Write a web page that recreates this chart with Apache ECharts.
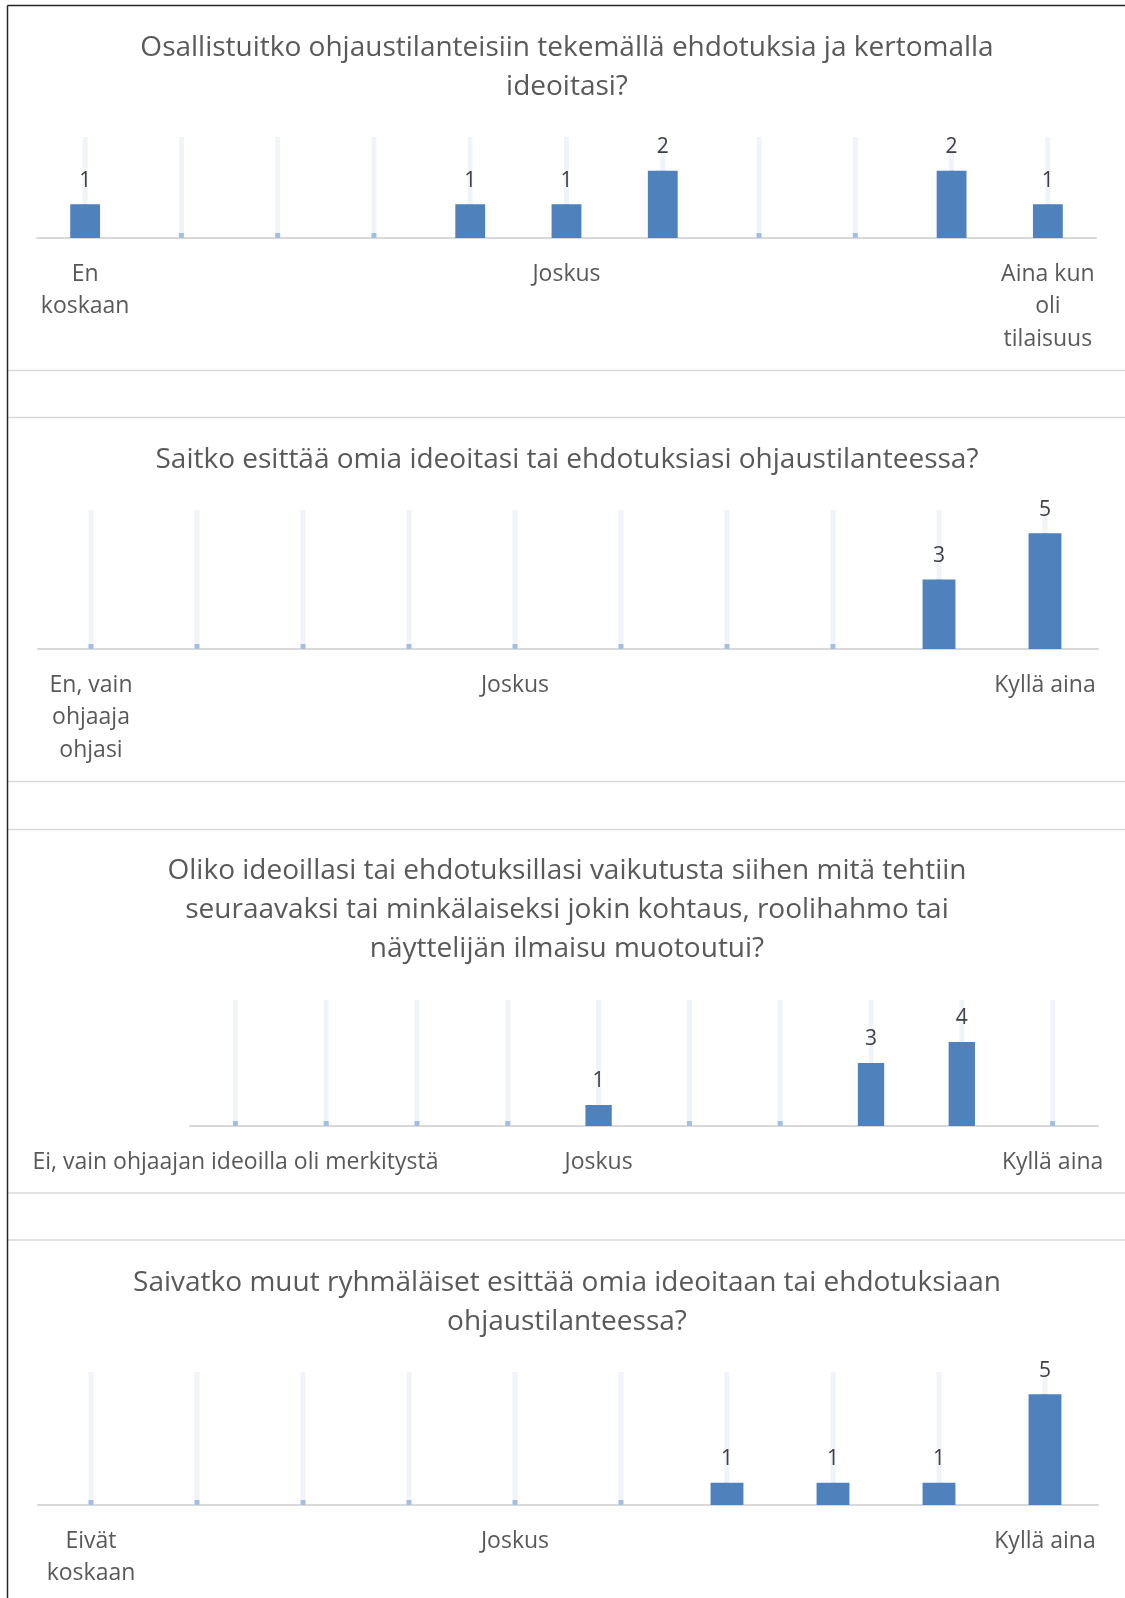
<!DOCTYPE html>
<html>
<head>
<meta charset="utf-8">
<script src="https://cdn.jsdelivr.net/npm/echarts@6/dist/echarts.min.js"></script>
<style>
  html, body { margin: 0; padding: 0; background: #ffffff; }
  #chart { width: 1125px; height: 1598px; }
</style>
</head>
<body>
<div id="chart"></div>
<script>
// Survey answers on a 1–10 (first question 1–11) scale, one array per question
const q1Title = 'Osallistuitko ohjaustilanteisiin tekemällä ehdotuksia ja kertomalla\nideoitasi?';
const q1Scale = ['1', '2', '3', '4', '5', '6', '7', '8', '9', '10', '11'];
const q1Labels = ['En\nkoskaan', '', '', '', '', 'Joskus', '', '', '', '', 'Aina kun\noli\ntilaisuus'];
const q1Values = [1, 0, 0, 0, 1, 1, 2, 0, 0, 2, 1];

const q2Title = 'Saitko esittää omia ideoitasi tai ehdotuksiasi ohjaustilanteessa?';
const q2Scale = ['1', '2', '3', '4', '5', '6', '7', '8', '9', '10'];
const q2Labels = ['En, vain\nohjaaja\nohjasi', '', '', '', 'Joskus', '', '', '', '', 'Kyllä aina'];
const q2Values = [0, 0, 0, 0, 0, 0, 0, 0, 3, 5];

const q3Title = 'Oliko ideoillasi tai ehdotuksillasi vaikutusta siihen mitä tehtiin\nseuraavaksi tai minkälaiseksi jokin kohtaus, roolihahmo tai\nnäyttelijän ilmaisu muotoutui?';
const q3Scale = ['1', '2', '3', '4', '5', '6', '7', '8', '9', '10'];
const q3Labels = ['Ei, vain ohjaajan ideoilla oli merkitystä', '', '', '', 'Joskus', '', '', '', '', 'Kyllä aina'];
const q3Values = [0, 0, 0, 0, 1, 0, 0, 3, 4, 0];

const q4Title = 'Saivatko muut ryhmäläiset esittää omia ideoitaan tai ehdotuksiaan\nohjaustilanteessa?';
const q4Scale = ['1', '2', '3', '4', '5', '6', '7', '8', '9', '10'];
const q4Labels = ['Eivät\nkoskaan', '', '', '', 'Joskus', '', '', '', '', 'Kyllä aina'];
const q4Values = [0, 0, 0, 0, 0, 0, 1, 1, 1, 5];

const FONT = '"Open Sans", "Noto Sans", sans-serif';
const TEXT = '#595959';
const BAR = '#4f81bd';

// Panel layout: plot rectangle, y maximum and title position for each question
const panels = [
  { title: q1Title, scale: q1Scale, labels: q1Labels, values: q1Values, max: 3,
    grid: { left: 37, right: 29, top: 137, height: 101 }, titleTop: 29, barWidth: '31%' },
  { title: q2Title, scale: q2Scale, labels: q2Labels, values: q2Values, max: 6,
    grid: { left: 38, right: 27, top: 510, height: 139 }, titleTop: 441, barWidth: '31%' },
  { title: q3Title, scale: q3Scale, labels: q3Labels, values: q3Values, max: 6,
    grid: { left: 190, right: 27, top: 1000, height: 126 }, titleTop: 852, barWidth: '29%' },
  { title: q4Title, scale: q4Scale, labels: q4Labels, values: q4Values, max: 6,
    grid: { left: 38, right: 27, top: 1372, height: 133 }, titleTop: 1264, barWidth: '31%' }
];

const grid = [], xAxis = [], yAxis = [], series = [], graphic = [];

panels.forEach((p, i) => {
  grid.push(Object.assign({ containLabel: false }, p.grid));
  // visible category axis carrying the scale-end labels
  xAxis.push({
    type: 'category', gridIndex: i, data: p.scale,
    axisLine: { show: true, lineStyle: { color: '#d9d9d9', width: 2 } },
    axisTick: { show: false },
    splitLine: { show: false },
    axisLabel: {
      interval: 0, margin: 20, color: TEXT, fontFamily: FONT, fontSize: 23, lineHeight: 32.5,
      formatter: (v, idx) => p.labels[idx]
    }
  });
  // hidden twin axis so the thin guide bars centre independently of the wide bars
  xAxis.push({ type: 'category', gridIndex: i, data: p.scale, show: false });
  yAxis.push({ type: 'value', gridIndex: i, min: 0, max: p.max, show: false, splitLine: { show: false } });

  series.push({
    type: 'bar', xAxisIndex: 2 * i + 1, yAxisIndex: i,
    data: p.values, barWidth: 5, barMinHeight: 5,
    itemStyle: { color: '#a3bee0' },
    showBackground: true, backgroundStyle: { color: '#f0f4fa' },
    silent: true, animation: false, z: 1
  });
  series.push({
    type: 'bar', xAxisIndex: 2 * i, yAxisIndex: i,
    data: p.values, barWidth: p.barWidth,
    itemStyle: { color: BAR },
    label: {
      show: true, position: 'top', distance: 13,
      color: '#404040', fontFamily: FONT, fontSize: 21,
      formatter: (d) => (d.value ? String(d.value) : '')
    },
    animation: false, z: 2
  });

  graphic.push({
    type: 'text', x: 567, y: p.titleTop, z: 10,
    style: {
      text: p.title, align: 'center', verticalAlign: 'top',
      fontFamily: FONT, fontSize: 28, lineHeight: 39, fill: TEXT
    }
  });
});

// panel frames: outer dark edge and the light separators between panels
[370.5, 417.5, 781.5, 829.5, 1193, 1240].forEach((y) => {
  graphic.push({ type: 'line', shape: { x1: 8, y1: y, x2: 1125, y2: y },
    style: { stroke: '#d9d9d9', lineWidth: 1.5 }, z: 5 });
});
graphic.push({ type: 'line', shape: { x1: 7.5, y1: 5.5, x2: 1125, y2: 5.5 },
  style: { stroke: '#262626', lineWidth: 1.5 }, z: 6 });
graphic.push({ type: 'line', shape: { x1: 7.5, y1: 5.5, x2: 7.5, y2: 1598 },
  style: { stroke: '#262626', lineWidth: 1.5 }, z: 6 });

const chart = echarts.init(document.getElementById('chart'), null, { renderer: 'canvas' });
chart.setOption({
  backgroundColor: '#ffffff',
  animation: false,
  grid, xAxis, yAxis, series, graphic
});
</script>
</body>
</html>
